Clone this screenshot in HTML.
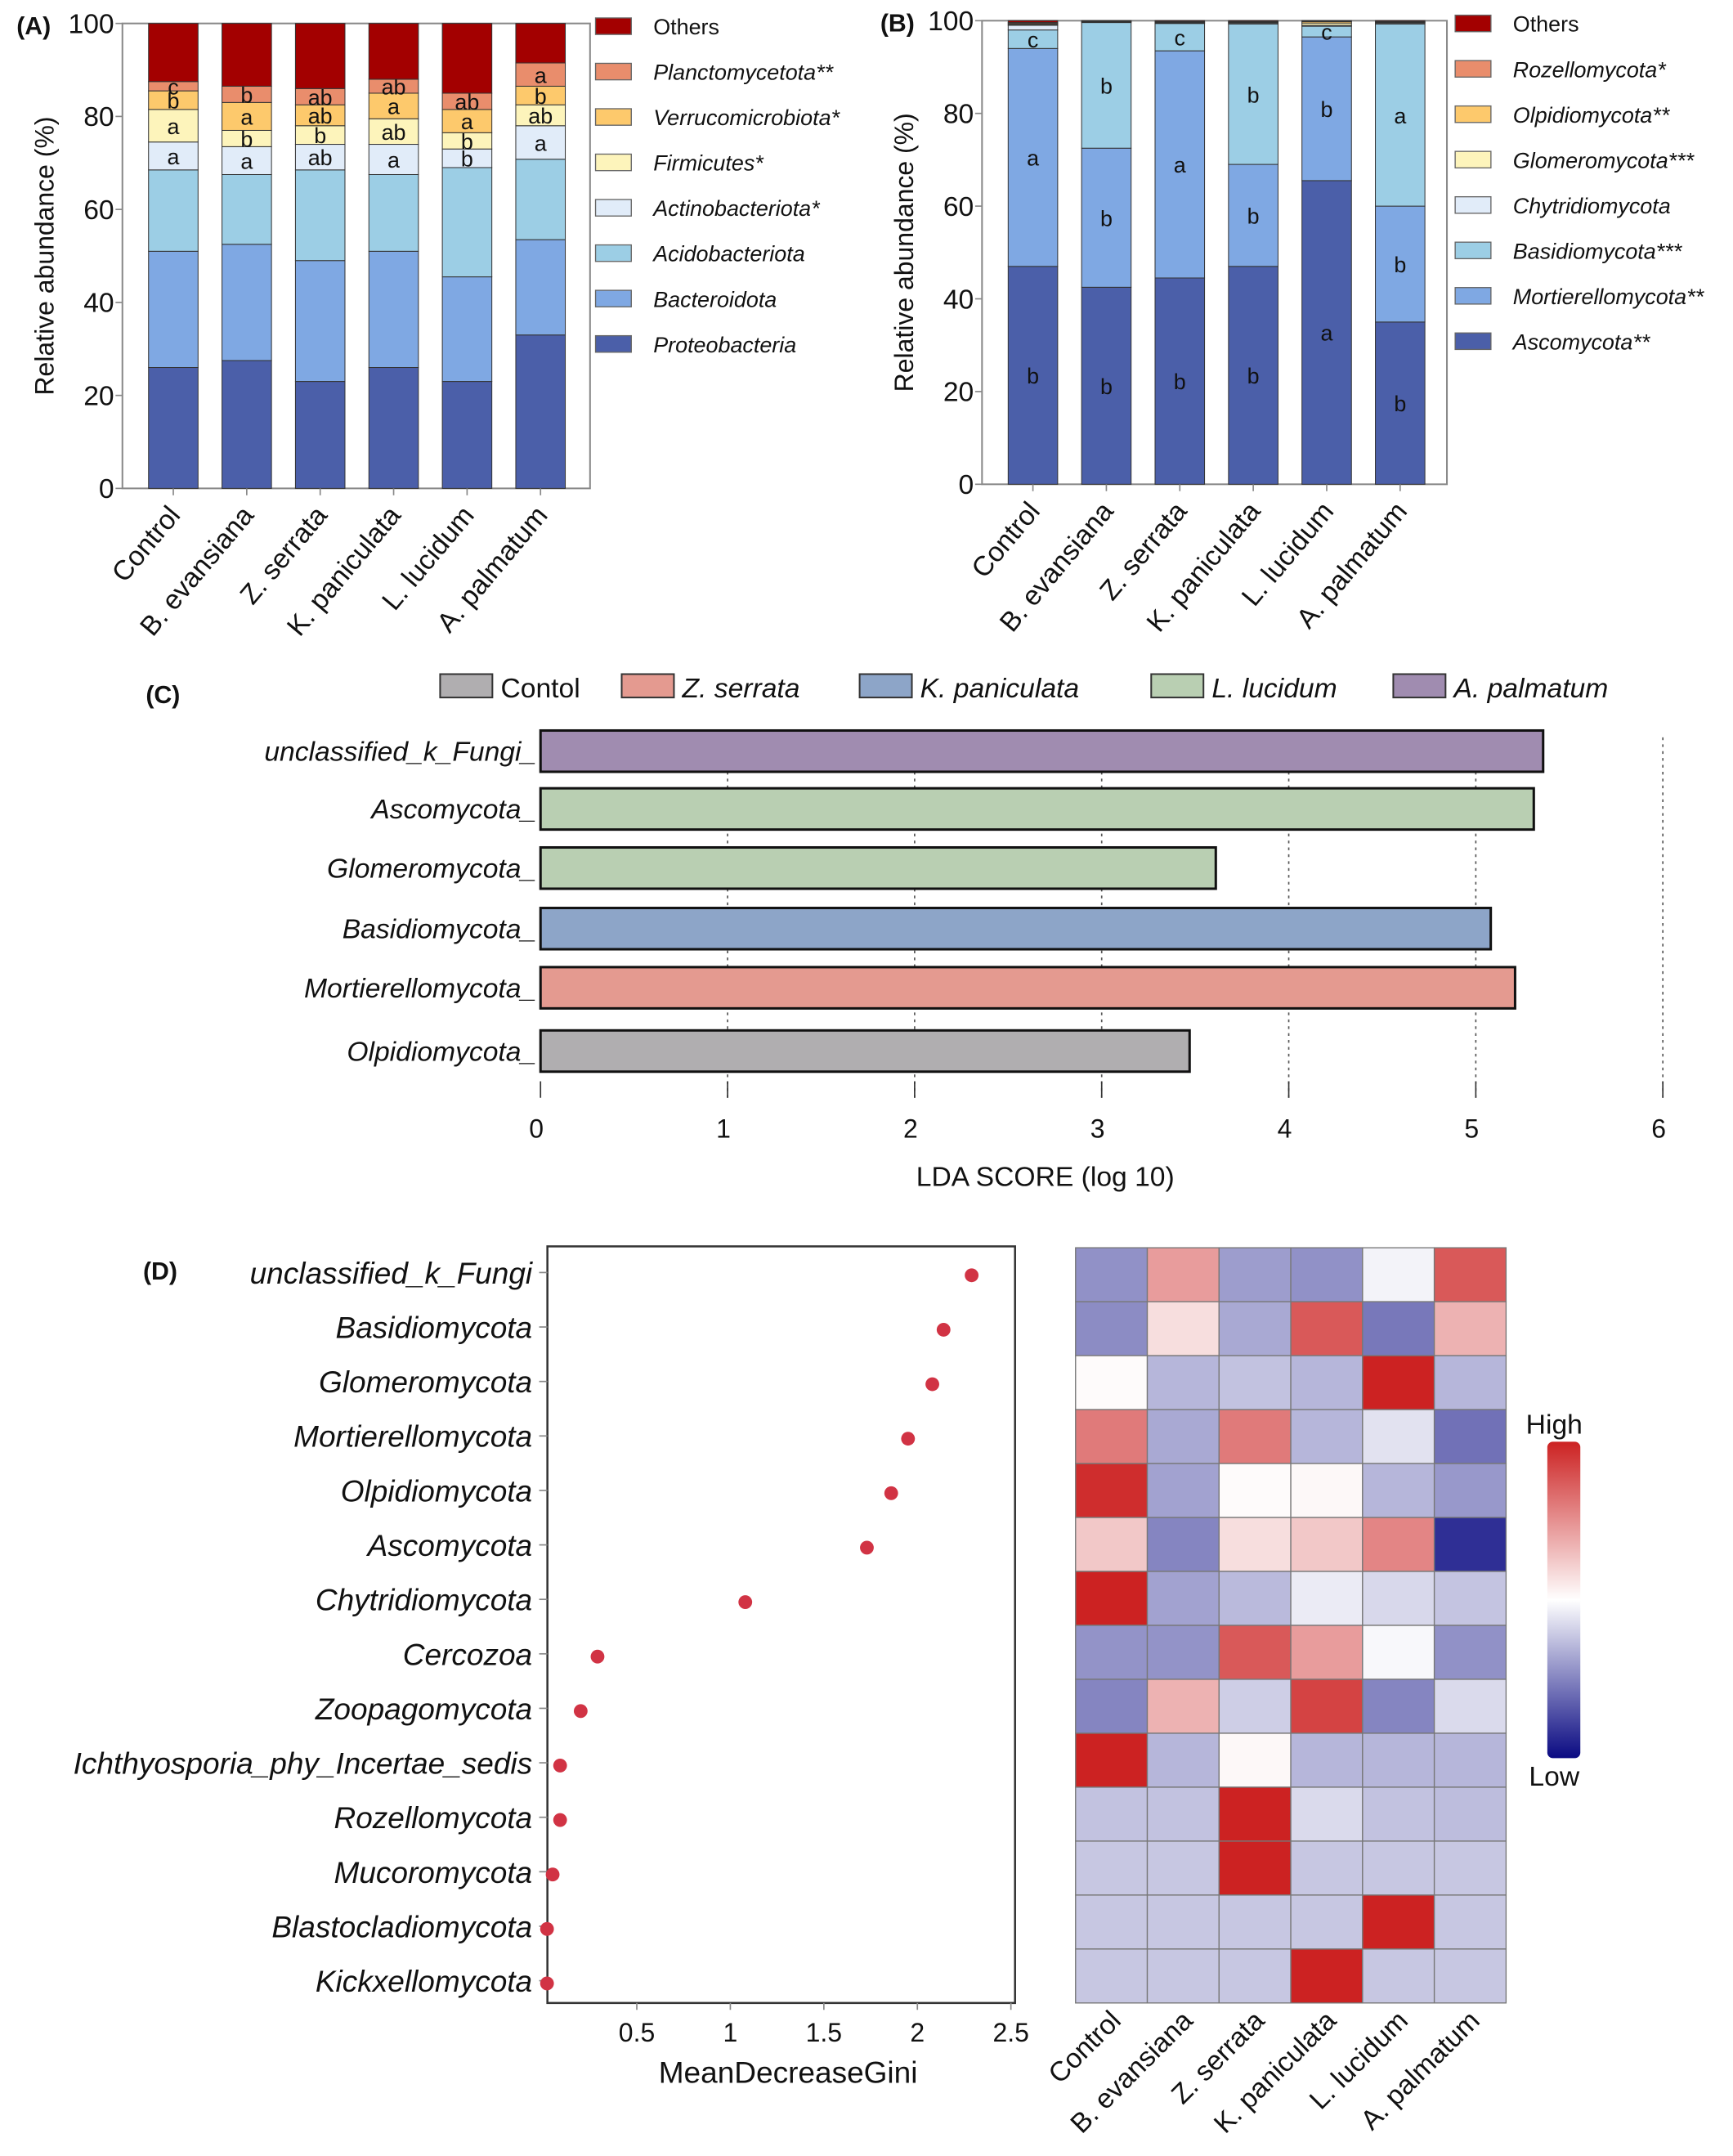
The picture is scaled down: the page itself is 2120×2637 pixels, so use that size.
<!DOCTYPE html>
<html><head><meta charset="utf-8">
<style>
html,body{margin:0;padding:0;background:#fff;}
svg{display:block;font-family:"Liberation Sans",Arial,sans-serif;}
</style></head>
<body>
<svg id="fig" width="2120" height="2637" viewBox="0 0 1260 1567.2" xmlns="http://www.w3.org/2000/svg">
<rect x="0" y="0" width="1260" height="1568" fill="#fff"/>
<g id="root"></g>
</svg>
<script>
// ---------- Data ----------
const groups = ["Control","B. evansiana","Z. serrata","K. paniculata","L. lucidum","A. palmatum"];
// Panel A (bacteria), bottom to top
const bactNames = ["Proteobacteria","Bacteroidota","Acidobacteriota","Actinobacteriota*","Firmicutes*","Verrucomicrobiota*","Planctomycetota**","Others"];
const bactProteo = [26, 27.5, 23, 26, 23, 33];
const bactBactero = [25, 25, 26, 25, 22.5, 20.5];
const bactAcido = [17.5, 15, 19.5, 16.5, 23.5, 17.3];
const bactActino = [6, 6, 5.5, 6.5, 4, 7.2];
const bactFirm = [7, 3.5, 4, 5.5, 3.5, 4.5];
const bactVerruc = [4, 6, 4.5, 5.5, 5, 4];
const bactPlanct = [2, 3.5, 3.5, 3, 3.5, 5];
const bactOthers = [12.5, 13.5, 14, 12, 15, 8.5];
const bactLetActino = ["a","a","ab","a","b","a"];
const bactLetFirm = ["a","b","b","ab","b","ab"];
const bactLetVerruc = ["b","a","ab","a","a","b"];
const bactLetPlanct = ["c","b","ab","ab","ab","a"];
// Panel B (fungi)
const fungNames = ["Ascomycota**","Mortierellomycota**","Basidiomycota***","Chytridiomycota","Glomeromycota***","Olpidiomycota**","Rozellomycota*","Others"];
const fungAsco = [47, 42.5, 44.5, 47, 65.5, 35];
const fungMort = [47, 30, 49, 22, 31, 25];
const fungBasid = [4, 27.1, 5.9, 30.3, 2.3, 39.3];
const fungChyt = [1, 0.1, 0.1, 0.2, 0.2, 0.2];
const fungGlom = [0.2, 0.1, 0.1, 0.1, 0.5, 0.1];
const fungOlpid = [0.2, 0.05, 0.1, 0.1, 0.3, 0.1];
const fungRozell = [0.2, 0.05, 0.1, 0.1, 0.1, 0.1];
const fungOthers = [0.4, 0.1, 0.2, 0.2, 0.1, 0.2];
const fungLetAsco = ["b","b","b","b","a","b"];
const fungLetMort = ["a","b","a","b","b","b"];
const fungLetBasid = ["c","b","c","b","c","a"];
// Panel C (LEfSe)
const ldaTaxa = ["unclassified_k_Fungi_","Ascomycota_","Glomeromycota_","Basidiomycota_","Mortierellomycota_","Olpidiomycota_"];
const ldaScores = [5.36, 5.31, 3.61, 5.08, 5.21, 3.47];
const ldaGroup = [4, 3, 3, 2, 1, 0];
const ldaGroupNames = ["Contol","Z. serrata","K. paniculata","L. lucidum","A. palmatum"];
const ldaTicks = [0,1,2,3,4,5,6];
// Panel D
const rfTaxa = ["unclassified_k_Fungi","Basidiomycota","Glomeromycota","Mortierellomycota","Olpidiomycota","Ascomycota","Chytridiomycota","Cercozoa","Zoopagomycota","Ichthyosporia_phy_Incertae_sedis","Rozellomycota","Mucoromycota","Blastocladiomycota","Kickxellomycota"];
const rfGini = [2.29, 2.14, 2.08, 1.95, 1.86, 1.73, 1.08, 0.29, 0.2, 0.09, 0.09, 0.05, 0.02, 0.02];
const rfTicks = [0.5,1,1.5,2,2.5];
const heatRow1 = [-0.45, 0.45, -0.4, -0.45, -0.05, 0.75];
const heatRow2 = [-0.47, 0.15, -0.35, 0.75, -0.55, 0.35];
const heatRow3 = [0.02, -0.3, -0.25, -0.3, 1, -0.3];
const heatRow4 = [0.6, -0.35, 0.6, -0.3, -0.12, -0.58];
const heatRow5 = [0.95, -0.38, 0.02, 0.03, -0.3, -0.42];
const heatRow6 = [0.25, -0.5, 0.15, 0.25, 0.55, -0.85];
const heatRow7 = [1, -0.38, -0.28, -0.08, -0.16, -0.24];
const heatRow8 = [-0.44, -0.44, 0.75, 0.45, -0.03, -0.45];
const heatRow9 = [-0.5, 0.35, -0.2, 0.85, -0.5, -0.15];
const heatRow10 = [1, -0.3, 0.03, -0.3, -0.3, -0.3];
const heatRow11 = [-0.25, -0.25, 1, -0.15, -0.25, -0.27];
const heatRow12 = [-0.23, -0.23, 1, -0.23, -0.23, -0.23];
const heatRow13 = [-0.23, -0.23, -0.23, -0.23, 1, -0.23];
const heatRow14 = [-0.23, -0.23, -0.23, 1, -0.23, -0.23];

// ---------- helpers ----------
const NS = "http://www.w3.org/2000/svg";
const root = document.getElementById("root");
function mk(tag, attrs, parent, txt){
  const e = document.createElementNS(NS, tag);
  for (const k in attrs) e.setAttribute(k, attrs[k]);
  if (txt !== undefined) e.textContent = txt;
  (parent || root).appendChild(e);
  return e;
}
function slug(s){return s.toLowerCase().replace(/[^a-z0-9]+/g,'-').replace(/^-|-$/g,'');}

const bactColors = ["#4b5fa9","#7fa8e3","#9ccee5","#e1ecf9","#fdf4bb","#fdc96c","#e98d6c","#a30000"];

function stackPanel(o){
  const x0=o.left,x1=o.right,y0=o.top,y1=o.bottom;
  const ys = v => y1 - (v/100)*(y1-y0);
  const bw = 36;
  const xc = i => x0 + 37 + i*53.4;
  const g = mk("g",{});
  
  
  const fr = mk("rect",{x:x0,y:y0,width:x1-x0,height:y1-y0,fill:"none",stroke:"#888","stroke-width":1.2},g);
  
  
  [0,20,40,60,80,100].forEach(t=>{
    mk("line",{x1:x0-5,x2:x0,y1:ys(t),y2:ys(t),stroke:"#888"},g);
    const tl = mk("text",{x:x0-6,y:ys(t)+7,"text-anchor":"end","font-size":20,fill:"#111"},g,String(t));
    
    
  });
  const yt = mk("text",{x:0,y:0,transform:`translate(${x0-50},${(y0+y1)/2}) rotate(-90)`,"text-anchor":"middle","font-size":19,fill:"#111"},g,"Relative abundance (%)");
  
  
  const pl = mk("text",{x:o.labelX,y:y0+8,"font-size":18,"font-weight":"bold",fill:"#111"},g,o.label);
  
  
  groups.forEach((grp,i)=>{
    let cum=0;
    o.series.forEach((arr,s)=>{
      const v=arr[i];
      const r = mk("rect",{x:xc(i)-bw/2,y:ys(cum+v),width:bw,height:ys(cum)-ys(cum+v),fill:bactColors[s],stroke:"#333","stroke-width":0.6},g);
      
      
      const li = o.letterIdx.indexOf(s);
      if (li>=0){
        const t = mk("text",{x:xc(i),y:ys(cum+v/2)+6,"text-anchor":"middle","font-size":o.letterSize,fill:"#111"},g,o.letters[li][i]);
        
        
      }
      cum+=v;
    });
    mk("line",{x1:xc(i),x2:xc(i),y1:y1,y2:y1+5,stroke:"#888"},g);
    const xl = mk("text",{x:0,y:0,transform:`translate(${xc(i)+6},${y1+20}) rotate(-50)`,"text-anchor":"end","font-size":20,fill:"#111"},g,grp);
    
    
  });
  for(let s=0;s<8;s++){
    const ly = o.legTop + (7-s)*33;
    const sw = mk("rect",{x:o.legX,y:ly-6,width:26,height:12,fill:bactColors[s],stroke:"#666","stroke-width":0.8},g);
    
    
    const lt = mk("text",{x:o.legX+42,y:ly+6,"font-size":16,"font-style":s===7?"normal":"italic",fill:"#111"},g,o.names[s]);
    
    
  }
}
stackPanel({name:"panel-a",label:"(A)",labelX:12,left:89,right:429,top:17,bottom:355,
  series:[bactProteo,bactBactero,bactAcido,bactActino,bactFirm,bactVerruc,bactPlanct,bactOthers],
  names:bactNames,letterIdx:[3,4,5,6],letters:[bactLetActino,bactLetFirm,bactLetVerruc,bactLetPlanct],letterSize:16,
  legX:433,legTop:19});
stackPanel({name:"panel-b",label:"(B)",labelX:640,left:714,right:1052,top:15,bottom:352,
  series:[fungAsco,fungMort,fungBasid,fungChyt,fungGlom,fungOlpid,fungRozell,fungOthers],
  names:fungNames,letterIdx:[0,1,2],letters:[fungLetAsco,fungLetMort,fungLetBasid],letterSize:16,
  legX:1058,legTop:17});

// ---------- Panel C ----------
(function(){
  const cols = ["#b0aeb0","#e49a90","#8da5c8","#b9cfb2","#a08cb0"];
  const xs = v => 393 + v*136;
  const rowY = [546,588,631,675,718,764];
  const g = mk("g",{});
  
  
  const pl = mk("text",{x:106,y:511,"font-size":18,"font-weight":"bold",fill:"#111"},g,"(C)");
  
  
  const legSw=[320,452,625,837,1013];
  ldaGroupNames.forEach((n,i)=>{
    const r = mk("rect",{x:legSw[i],y:490,width:38,height:17,fill:cols[i],stroke:"#333","stroke-width":1.2},g);
    
    
    const t = mk("text",{x:legSw[i]+44,y:507,"font-size":20,"font-style":i===0?"normal":"italic",fill:"#111"},g,n);
    
    
  });
  ldaTicks.forEach(t=>{
    if(t>0){
      const gl = mk("line",{x1:xs(t),x2:xs(t),y1:536,y2:800,stroke:"#555","stroke-dasharray":"2,3","stroke-width":1},g);
      
      
    }
    mk("line",{x1:xs(t),x2:xs(t),y1:786,y2:798,stroke:"#333"},g);
    const tl = mk("text",{x:xs(t)-3,y:827,"text-anchor":"middle","font-size":19,fill:"#111"},g,String(t));
    
    
  });
  ldaTaxa.forEach((n,i)=>{
    const r = mk("rect",{x:xs(0),y:rowY[i]-15,width:xs(ldaScores[i])-xs(0),height:30,fill:cols[ldaGroup[i]],stroke:"#111","stroke-width":1.8},g);
    
    
    const t = mk("text",{x:390,y:rowY[i]+7,"text-anchor":"end","font-size":20,"font-style":"italic",fill:"#111"},g,n);
    
    
  });
  const at = mk("text",{x:760,y:862,"text-anchor":"middle","font-size":20,fill:"#111"},g,"LDA SCORE (log 10)");
  
  
})();

// ---------- Panel D ----------
(function(){
  const g = mk("g",{});
  
  
  const xs = v => 395 + v*136;
  const ys = i => 925 + i*39.6;
  const pl = mk("text",{x:104,y:930,"font-size":18,"font-weight":"bold",fill:"#111"},g,"(D)");
  
  
  const fr = mk("rect",{x:398,y:906,width:340,height:550,fill:"none",stroke:"#333","stroke-width":1.5},g);
  
  
  rfTicks.forEach(t=>{
    mk("line",{x1:xs(t),x2:xs(t),y1:1456,y2:1461,stroke:"#888"},g);
    const tl = mk("text",{x:xs(t),y:1484,"text-anchor":"middle","font-size":19,fill:"#111"},g,String(t));
    
    
  });
  rfTaxa.forEach((n,i)=>{
    mk("line",{x1:392,x2:398,y1:ys(i),y2:ys(i),stroke:"#888"},g);
    const t = mk("text",{x:387,y:ys(i)+8,"text-anchor":"end","font-size":22,"font-style":"italic",fill:"#111"},g,n);
    
    
    const c = mk("circle",{cx:xs(rfGini[i]),cy:ys(i)+2,r:5,fill:"#d13344"},g);
    
    
  });
  const at = mk("text",{x:573,y:1514,"text-anchor":"middle","font-size":22,fill:"#111"},g,"MeanDecreaseGini");
  
  

  const rows=[heatRow1,heatRow2,heatRow3,heatRow4,heatRow5,heatRow6,heatRow7,heatRow8,heatRow9,heatRow10,heatRow11,heatRow12,heatRow13,heatRow14];
  const hx0=782,hx1=1095,hy0=907,hy1=1456;
  const cw=(hx1-hx0)/6, ch=(hy1-hy0)/14;
  function color(v){
    let r,gg,b;
    if(v>=0){ r=255+(204-255)*v; gg=255+(34-255)*v; b=255+(34-255)*v; }
    else { const a=-v; r=255+(10-255)*a; gg=255+(10-255)*a; b=255+(130-255)*a; }
    return `rgb(${Math.round(r)},${Math.round(gg)},${Math.round(b)})`;
  }
  rows.forEach((row,ri)=>{
    row.forEach((v,ci)=>{
      const c = mk("rect",{x:hx0+ci*cw,y:hy0+ri*ch,width:cw,height:ch,fill:color(v),stroke:"#777","stroke-width":0.8},g);
      
      
    });
  });
  groups.forEach((grp,i)=>{
    const t = mk("text",{x:0,y:0,transform:`translate(${hx0+cw*(i+0.5)+8},${hy1+14}) rotate(-45)`,"text-anchor":"end","font-size":20,fill:"#111"},g,grp);
    
    
  });
  const defs = mk("defs",{},g);
  const lg = mk("linearGradient",{id:"cb",x1:0,y1:0,x2:0,y2:1},defs);
  mk("stop",{offset:"0",  "stop-color":"#cc2222"},lg);
  mk("stop",{offset:"0.5","stop-color":"#ffffff"},lg);
  mk("stop",{offset:"1",  "stop-color":"#0a0a82"},lg);
  const cb = mk("rect",{x:1125,y:1048,width:24,height:230,rx:4,fill:"url(#cb)"},g);
  
  
  const hi = mk("text",{x:1130,y:1042,"text-anchor":"middle","font-size":20,fill:"#111"},g,"High");
  
  
  const lo = mk("text",{x:1130,y:1298,"text-anchor":"middle","font-size":20,fill:"#111"},g,"Low");
  
  
})();
</script>
</body></html>
